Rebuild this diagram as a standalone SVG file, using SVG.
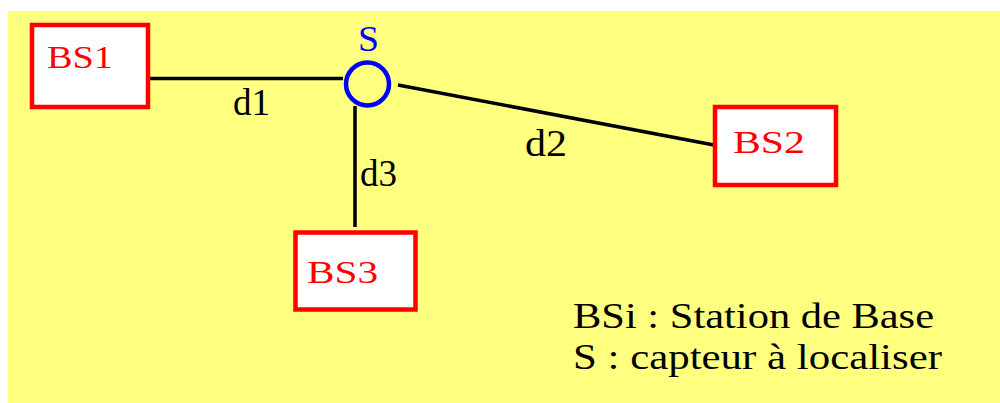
<svg xmlns="http://www.w3.org/2000/svg" width="1000" height="403" viewBox="0 0 1000 403">
<style>
.bg{fill:#ffff80}
.box{fill:#fff;stroke:#ff0000;stroke-width:4.5}
.bt{fill:#ff0000;font-family:"Liberation Serif",serif;font-size:31px}
.lbl{fill:#000;font-family:"Liberation Serif",serif;font-size:37px}
.leg{fill:#000;font-family:"Liberation Serif",serif;font-size:35px}
.edge{stroke:#000;stroke-width:3.5;fill:none}
</style>
<rect x="0" y="0" width="1000" height="403" fill="#fff"/>
<rect class="bg" x="8" y="11" width="992" height="392"/>
<g id="connectors">
<line class="edge" x1="150" y1="78.5" x2="343" y2="78.5"/>
<line class="edge" x1="398" y1="85" x2="714" y2="145"/>
<line class="edge" x1="355" y1="106" x2="355" y2="227"/>
<text class="lbl" x="233" y="115" textLength="37" lengthAdjust="spacingAndGlyphs">d1</text>
<text class="lbl" x="525" y="156" textLength="42" lengthAdjust="spacingAndGlyphs">d2</text>
<text class="lbl" x="360" y="186" textLength="37" lengthAdjust="spacingAndGlyphs">d3</text>
</g>
<g id="S">
<circle cx="367.5" cy="84" r="21.5" fill="none" stroke="#0000ff" stroke-width="4.5"/>
<text x="358" y="51" fill="#0000ff" font-family="Liberation Serif, serif" font-size="36" textLength="21" lengthAdjust="spacingAndGlyphs">S</text>
</g>
<g id="BS1">
<rect class="box" x="32" y="25" width="116" height="82"/>
<text class="bt" x="47" y="68" textLength="66" lengthAdjust="spacingAndGlyphs">BS1</text>
</g>
<g id="BS2">
<rect class="box" x="715" y="107" width="121" height="78"/>
<text class="bt" x="733" y="153" textLength="72" lengthAdjust="spacingAndGlyphs">BS2</text>
</g>
<g id="BS3">
<rect class="box" x="295.5" y="232.5" width="120" height="77"/>
<text class="bt" x="307" y="283" textLength="71" lengthAdjust="spacingAndGlyphs">BS3</text>
</g>
<g id="legend">
<text class="leg" x="573" y="328" textLength="361" lengthAdjust="spacingAndGlyphs">BSi : Station de Base</text>
<text class="leg" x="573" y="369" textLength="369" lengthAdjust="spacingAndGlyphs">S : capteur à localiser</text>
</g>
</svg>
